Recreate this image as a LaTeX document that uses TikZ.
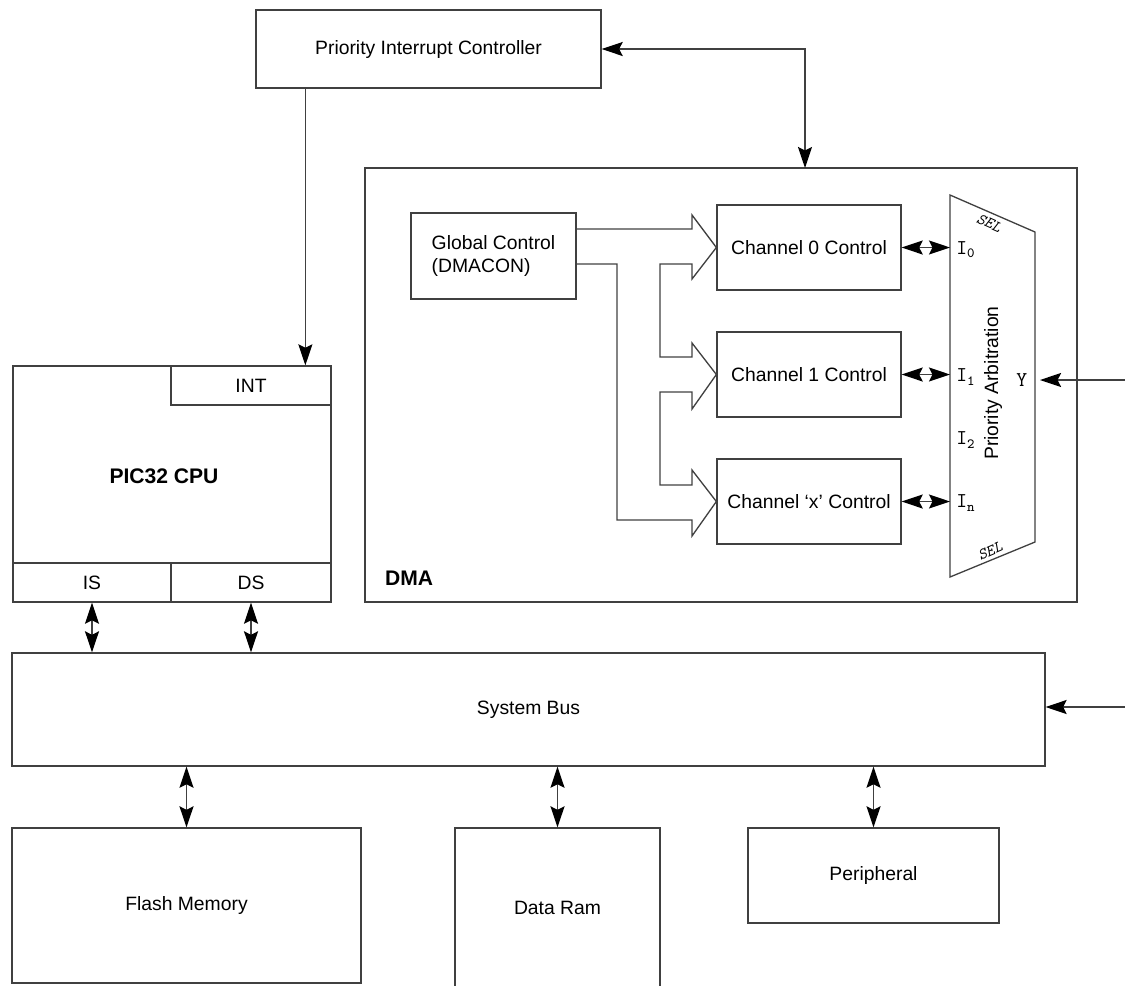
\documentclass[tikz,border=0pt]{standalone}
\usepackage{fontspec}
\setmainfont{Liberation Sans}
\usetikzlibrary{arrows.meta}
\begin{document}
\begin{tikzpicture}[x=0.02cm, y=-0.02cm, font=\fontsize{11}{13}\selectfont, line join=miter,
  >={Stealth[length=12pt,width=8pt,inset=2pt,black]},
  blk/.style={draw=black!75, line width=0.75pt, inner sep=0pt},
  wire/.style={draw=black!75, line width=0.75pt},
  pinlbl/.style={anchor=west, inner sep=0pt, font=\ttfamily\fontsize{12}{14}\selectfont}]
\useasboundingbox (0,0) rectangle (1125,985);
\clip (0,0) rectangle (1125,985);
\node[blk, minimum width=6.9cm, minimum height=1.56cm] (pic) at (428.5,49) {Priority Interrupt Controller};
\node[blk, minimum width=6.36cm, minimum height=4.72cm] (cpu) at (172,484) {};
\node[blk, minimum width=3.2cm, minimum height=0.78cm] (int) at (251,385.5) {INT};
\node[blk, minimum width=3.16cm, minimum height=0.78cm] (is) at (92,582.5) {IS};
\node[blk, minimum width=3.2cm, minimum height=0.78cm] (ds) at (251,582.5) {DS};
\node[font=\fontsize{12}{14}\selectfont\bfseries] (cpulbl) at (164,476) {PIC32 CPU};
\node[blk, minimum width=14.24cm, minimum height=8.68cm] (dma) at (721,385) {};
\node[anchor=west, font=\fontsize{12}{14}\selectfont\bfseries] (dmalbl) at (379,578) {DMA};
\node[blk, minimum width=3.3cm, minimum height=1.72cm, align=left] (gc) at (493.5,256) {Global Control\\(DMACON)};
\node[blk, minimum width=3.68cm, minimum height=1.7cm] (ch0) at (809,247.5) {Channel 0 Control};
\node[blk, minimum width=3.68cm, minimum height=1.7cm] (ch1) at (809,374.5) {Channel 1 Control};
\node[blk, minimum width=3.68cm, minimum height=1.7cm] (chx) at (809,501.5) {Channel `x' Control};
\node[blk, minimum width=20.66cm, minimum height=2.26cm] (bus) at (528.5,709.5) {System Bus};
\node[blk, minimum width=6.98cm, minimum height=3.1cm] (flash) at (186.5,905.5) {Flash Memory};
\node[blk, minimum width=4.1cm, minimum height=3.2cm] (ram) at (557.5,908) {Data Ram};
\node[blk, minimum width=5.02cm, minimum height=1.9cm] (per) at (873.5,875.5) {Peripheral};
% arbitration mux
\coordinate (mtl) at (950,195); \coordinate (mtr) at (1035,232);
\coordinate (mbr) at (1035,542); \coordinate (mbl) at (950,577);
\draw[wire] (mtl) -- (mtr) -- (mbr) -- (mbl) -- cycle;
\node[rotate=90] (arb) at (993,383) {Priority Arbitration};
\node[pinlbl] (i0) at (956,250) {I\textsubscript{0}};
\node[pinlbl] (i1) at (956,377) {I\textsubscript{1}};
\node[pinlbl] (i2) at (956,440) {I\textsubscript{2}};
\node[pinlbl] (in) at (956,503) {I\textsubscript{n}};
\node[pinlbl] (yout) at (1016,380) {Y};
\node[rotate=-24, font=\ttfamily\itshape\fontsize{9}{10}\selectfont] (seltop) at (989,223) {SEL};
\node[rotate=24, font=\ttfamily\itshape\fontsize{9}{10}\selectfont] (selbot) at (990,551) {SEL};
% connectors
\coordinate (pd) at (805,168);
\draw[wire, <->] (pic.east) -| (pd);
\draw[wire, ->] ([xshift=1cm]pic.south west) -- ([xshift=1cm]pic.south west |- int.north);
\draw[wire, <->] (is.south) -- (is.south |- bus.north);
\draw[wire, <->] (ds.south) -- (ds.south |- bus.north);
\draw[wire, <->] (flash.north) -- (flash.north |- bus.south);
\draw[wire, <->] (ram.north) -- (ram.north |- bus.south);
\draw[wire, <->] (per.north) -- (per.north |- bus.south);
\draw[wire, <->] (ch0.east) -- (ch0.east -| mtl);
\draw[wire, <->] (ch1.east) -- (ch1.east -| mtl);
\draw[wire, <->] (chx.east) -- (chx.east -| mtl);
\coordinate (muxin) at (1125,380); \coordinate (ypin) at (1040,380);
\draw[wire, ->] (muxin) -- (ypin);
\coordinate (busin) at (1125,707);
\draw[wire, ->] (busin) -- (bus.east |- busin);
% hollow arrows from global control
\draw[wire] (gc.east |- 0,264) -| (617,520) -- (692,520) -- (692,536) -- (chx.west) -- (692,470) -- (692,485)
  -| (660,392) -- (692,392) -- (692,409) -- (ch1.west) -- (692,343) -- (692,357)
  -| (660,264) -- (692,264) -- (692,279) -- (ch0.west) -- (692,215) -- (692,229) -- (gc.east |- 0,229);
\end{tikzpicture}
\end{document}
